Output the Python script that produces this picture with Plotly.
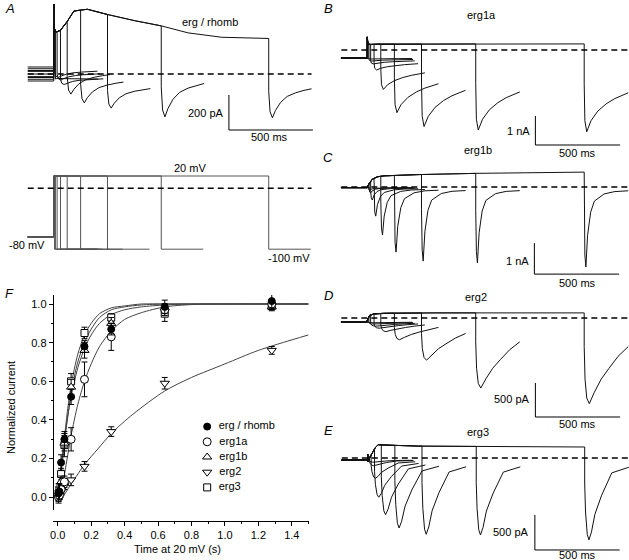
import numpy as np
import plotly.graph_objects as go

W, H = 629, 560
FONT = "Liberation Sans, Arial, sans-serif"

# ------------------------------------------------------------------ data
durations_ms = [5, 10, 20, 40, 80, 160, 320, 640, 1280]
pre_ms = -155

# Panel A : erg / rhomb current (pA)
envA_t = [0, 3, 15, 40, 80, 120, 200, 320, 480, 640, 800, 1000, 1280]
envA_I = [400, 260, 240, 250, 300, 360, 370, 340, 305, 275, 235, 210, 203]
holdA = [30, -30, 15, -15, 40, 0, -40, 20, -20]
tailminA = [-20, -25, -35, -60, -115, -165, -195, -245, -250]
tailA_dt = [0, 8, 22, 40, 70, 110, 160, 210, 255]
tailA_frac = [0.35, 0.85, 1.0, 0.82, 0.62, 0.47, 0.38, 0.32, 0.28]

# Panel A voltage protocol (mV)
V_hold, V_test, V_tail = -80, 20, -100
tail_step_ms = 250

# Panel B : erg1a (nA)
envB_t = [0, 2, 8, 20, 60, 200, 640, 1280]
envB_I = [0.45, 0.3, 0.2, 0.19, 0.2, 0.2, 0.21, 0.21]
holdB = -0.28
tailminB = [-0.31, -0.38, -0.48, -0.69, -1.36, -2.16, -2.64, -2.76, -2.82]
tailB_dt = [0, 4, 15, 40, 80, 130, 180, 260]
tailB_frac = [0.35, 0.85, 1.0, 0.85, 0.72, 0.62, 0.55, 0.47]

# Panel C : erg1b (nA)
envC_t = [0, 10, 30, 60, 100, 300, 640, 1280]
envC_I = [0.0, 0.1, 0.25, 0.33, 0.36, 0.40, 0.44, 0.48]
holdC = -0.02
tailminC = [-0.1, -0.19, -0.42, -0.94, -1.55, -2.10, -2.39, -2.45, -2.58]
tailC_dt = [0, 4, 10, 20, 38, 60, 117, 180, 260]
tailC_frac = [0.3, 0.85, 1.0, 0.6, 0.31, 0.17, 0.08, 0.05, 0.04]

# Panel D : erg2 (nA)
envD_t = [0, 5, 15, 40, 100, 400, 1280]
envD_I = [-0.03, 0.0, 0.04, 0.06, 0.07, 0.075, 0.075]
holdD = -0.06
tailminD = [-0.07, -0.09, -0.12, -0.15, -0.2, -0.32, -0.62, -1.03, -1.26]
tailD_dt = [0, 5, 15, 30, 60, 100, 145, 200, 260]
tailD_frac = [0.3, 0.7, 0.93, 1.0, 0.86, 0.7, 0.57, 0.42, 0.3]

# Panel E : erg3 (nA)
envE_t = [0, 3, 10, 25, 45, 62, 100, 300, 640, 1280]
envE_I = [0.05, -0.05, 0.0, 0.07, 0.15, 0.19, 0.185, 0.17, 0.165, 0.157]
holdE = -0.03
tailminE = [-0.06, -0.11, -0.29, -0.56, -0.81, -1.0, -1.09, -1.10, -1.17]
tailE_dt = [0, 5, 15, 25, 40, 60, 100, 160, 260]
tailE_frac = [0.3, 0.65, 0.93, 1.0, 0.9, 0.68, 0.44, 0.16, 0.09]

# Panel F : normalized current vs time at 20 mV (s)
series_names = ["erg / rhomb", "erg1a", "erg1b", "erg2", "erg3"]
f_time_s = [0.005, 0.01, 0.02, 0.04, 0.08, 0.16, 0.32, 0.64, 1.28]
f_rhomb = [0.02, 0.03, 0.18, 0.30, 0.52, 0.78, 0.87, 0.985, 1.015]
f_rhomb_err = [0.05, 0.04, 0.04, 0.04, 0.04, 0.03, 0.03, 0.035, 0.04]
f_erg1a = [0.0, 0.01, 0.04, 0.08, 0.30, 0.61, 0.83, 0.97, 1.0]
f_erg1a_err = [0.02, 0.02, 0.02, 0.03, 0.06, 0.09, 0.07, 0.03, 0.02]
f_erg1b = [0.01, 0.03, 0.08, 0.28, 0.57, 0.76, 0.90, 0.98, 0.985]
f_erg1b_err = [0.02, 0.02, 0.03, 0.04, 0.04, 0.04, 0.03, 0.02, 0.02]
f_erg2 = [0.0, 0.01, 0.03, 0.06, 0.09, 0.16, 0.34, 0.59, 0.76]
f_erg2_err = [0.02, 0.02, 0.02, 0.02, 0.03, 0.025, 0.025, 0.03, 0.02]
f_erg3 = [0.02, 0.04, 0.12, 0.27, 0.60, 0.85, 0.93, 0.95, 0.99]
f_erg3_err = [0.03, 0.03, 0.03, 0.06, 0.04, 0.03, 0.02, 0.04, 0.02]

fit_t = [0.0, 0.02, 0.04, 0.06, 0.08, 0.12, 0.16, 0.2, 0.25, 0.32, 0.4, 0.5, 0.64, 0.8, 1.0, 1.5]
fit_rhomb = [0.0, 0.15, 0.30, 0.42, 0.52, 0.67, 0.77, 0.84, 0.90, 0.945, 0.97, 0.985, 0.995, 1.0, 1.0, 1.0]
fit_erg1a = [0.0, 0.05, 0.12, 0.22, 0.32, 0.48, 0.60, 0.69, 0.78, 0.86, 0.92, 0.955, 0.985, 0.997, 1.0, 1.0]
fit_erg1b = [0.0, 0.12, 0.28, 0.42, 0.54, 0.70, 0.80, 0.87, 0.93, 0.97, 0.985, 0.995, 1.0, 1.0, 1.0, 1.0]
fit_erg3 = [0.0, 0.14, 0.31, 0.46, 0.58, 0.74, 0.84, 0.90, 0.95, 0.98, 0.99, 1.0, 1.0, 1.0, 1.0, 1.0]
fit2_t = [0.03, 0.07, 0.11, 0.16, 0.24, 0.32, 0.45, 0.64, 0.8, 1.0, 1.2, 1.5]
fit_erg2 = [0.0, 0.055, 0.107, 0.17, 0.25, 0.33, 0.43, 0.55, 0.62, 0.69, 0.76, 0.84]

# ------------------------------------------------------------------ helpers
def sweep(d, hold, env_t, env_I, tmin, tdt, tfrac):
    et = np.array(env_t, float)
    eI = np.array(env_I, float)
    t = [pre_ms, 0.0]
    I = [hold, hold]
    m = et < d
    t += list(et[m]); I += list(eI[m])
    t.append(d); I.append(float(np.interp(d, et, eI)))
    for dt, f in zip(tdt, tfrac):
        t.append(d + dt); I.append(hold + f * (tmin - hold))
    return t, I


def panel_traces(holds, env_t, env_I, tmins, tdt, tfrac):
    X, Y = [], []
    for i, d in enumerate(durations_ms):
        h = holds[i] if isinstance(holds, list) else holds
        t, I = sweep(d, h, env_t, env_I, tmins[i], tdt, tfrac)
        X += t + [None]; Y += I + [None]
    return X, Y


def px_axes(box, x0, sx, y0, sy):
    l, t, r, b = box
    xr = [(l - x0) / sx, (r - x0) / sx]
    yr = [(y0 - b) / sy, (y0 - t) / sy]
    return xr, yr, [l / W, r / W], [1 - b / H, 1 - t / H]


fig = go.Figure()
layout = dict(width=W, height=H, margin=dict(l=0, r=0, t=0, b=0),
              paper_bgcolor="white", plot_bgcolor="rgba(0,0,0,0)",
              showlegend=False, font=dict(family=FONT, size=11, color="black"))

# panel geometry (pixel box, t0 px, px/ms, zero px, px/unit)
geo = {
    "": ((20, 0, 315, 145), 51, 0.16875, 74, 0.175),
    "2": ((20, 160, 315, 265), 51, 0.16875, 188.2, 0.61),
    "3": ((335, 20, 629, 160), 366, 0.1703, 50, 29),
    "4": ((335, 160, 629, 290), 366, 0.1703, 187, 31),
    "5": ((335, 290, 629, 425), 366, 0.1703, 318, 68),
    "6": ((335, 425, 629, 560), 366.5, 0.1703, 458, 70),
}
for k, (box, x0, sx, y0, sy) in geo.items():
    xr, yr, xd, yd = px_axes(box, x0, sx, y0, sy)
    layout["xaxis" + k] = dict(range=xr, domain=xd, visible=False, fixedrange=True,
                               anchor="y" + k)
    layout["yaxis" + k] = dict(range=yr, domain=yd, visible=False, fixedrange=True,
                               anchor="x" + k)

line_k = dict(color="#111", width=1)

# Panel A current
X, Y = panel_traces(holdA, envA_t, envA_I, tailminA, tailA_dt, tailA_frac)
fig.add_trace(go.Scatter(x=X, y=Y, mode="lines", line=line_k, xaxis="x", yaxis="y"))

# Panel A voltage
VX, VY = [], []
for d in durations_ms:
    VX += [pre_ms, 0, 0, d, d, d + tail_step_ms, None]
    VY += [V_hold, V_hold, V_test, V_test, V_tail, V_tail, None]
fig.add_trace(go.Scatter(x=VX, y=VY, mode="lines", line=dict(color="#555", width=1),
                         xaxis="x2", yaxis="y2"))

for k, hold, et, eI, tm, tdt, tf in [
    ("3", holdB, envB_t, envB_I, tailminB, tailB_dt, tailB_frac),
    ("4", holdC, envC_t, envC_I, tailminC, tailC_dt, tailC_frac),
    ("5", holdD, envD_t, envD_I, tailminD, tailD_dt, tailD_frac),
    ("6", holdE, envE_t, envE_I, tailminE, tailE_dt, tailE_frac),
]:
    X, Y = panel_traces(hold, et, eI, tm, tdt, tf)
    fig.add_trace(go.Scatter(x=X, y=Y, mode="lines", line=line_k,
                             xaxis="x" + k, yaxis="y" + k))

shapes = []
dash = dict(color="black", width=1.5, dash="6px,4px")
# zero lines
shapes.append(dict(type="line", xref="x", yref="y", x0=-155, x1=1535, y0=0, y1=0, line=dash))
shapes.append(dict(type="line", xref="x2", yref="y2", x0=-155, x1=1535, y0=0, y1=0, line=dash))
for k in ["3", "4", "5", "6"]:
    shapes.append(dict(type="line", xref="x" + k, yref="y" + k, x0=-153, x1=1560,
                       y0=0, y1=0, line=dash))

# scale bars: (axis key, t start, y bottom, vertical size)
bar = dict(color="black", width=1)
scalebars = [("", 1043, -320, 200), ("3", 992, -3.276, 1.0), ("4", 986, -2.81, 1.0),
             ("5", 992, -1.456, 0.5), ("6", 986, -1.314, 0.5)]
for k, ts, yb, vs in scalebars:
    shapes.append(dict(type="line", xref="x" + k, yref="y" + k, x0=ts, x1=ts,
                       y0=yb, y1=yb + vs, line=bar))
    shapes.append(dict(type="line", xref="x" + k, yref="y" + k, x0=ts, x1=ts + 500,
                       y0=yb, y1=yb, line=bar))

# ------------------------------------------------------------------ panel F
fx0, fsx, fy0, fsy = 55, 168, 497.3, 193.3
layout["xaxis7"] = dict(domain=[50 / W, 307 / W], range=[(50 - fx0) / fsx, (307 - fx0) / fsx],
                        anchor="free", position=1 - 521 / H, showline=True,
                        linecolor="black", linewidth=1, ticks="outside", ticklen=4,
                        tickcolor="black", tick0=0, dtick=0.2, tickformat=".1f",
                        showgrid=False, zeroline=False, fixedrange=True,
                        tickfont=dict(size=11),
                        minor=dict(ticks="outside", ticklen=2, dtick=0.1, tickcolor="black"))
layout["yaxis7"] = dict(domain=[1 - 510 / H, 1 - 295 / H],
                        range=[(fy0 - 510) / fsy, (fy0 - 295) / fsy],
                        anchor="free", position=50 / W, showline=True,
                        linecolor="black", linewidth=1, ticks="outside", ticklen=4,
                        tickcolor="black", tick0=0, dtick=0.2, tickformat=".1f",
                        showgrid=False, zeroline=False, fixedrange=True,
                        tickfont=dict(size=11),
                        minor=dict(ticks="outside", ticklen=2, dtick=0.1, tickcolor="black"))

for ft, fv in [(fit2_t, fit_erg2), (fit_t, fit_erg1a), (fit_t, fit_rhomb),
               (fit_t, fit_erg1b), (fit_t, fit_erg3)]:
    fig.add_trace(go.Scatter(x=ft, y=fv, mode="lines", line=dict(color="#444", width=1,
                             shape="spline", smoothing=0.8), xaxis="x7", yaxis="y7"))

symbols = ["circle", "circle", "triangle-up", "triangle-down", "square"]
fills = ["black", "white", "white", "white", "white"]
sizes = [7, 8, 8, 8, 7]
vals = [f_rhomb, f_erg1a, f_erg1b, f_erg2, f_erg3]
errs = [f_rhomb_err, f_erg1a_err, f_erg1b_err, f_erg2_err, f_erg3_err]
for i in [3, 4, 2, 1, 0]:
    fig.add_trace(go.Scatter(
        x=f_time_s, y=vals[i], mode="markers", name=series_names[i],
        marker=dict(symbol=symbols[i], color=fills[i], size=sizes[i],
                    line=dict(color="black", width=1)),
        error_y=dict(type="data", array=errs[i], color="black", thickness=1, width=3),
        xaxis="x7", yaxis="y7"))

# manual legend
layout["xaxis8"] = dict(domain=[198 / W, 300 / W], range=[0, 1], visible=False,
                        fixedrange=True, anchor="y8")
layout["yaxis8"] = dict(domain=[1 - 495 / H, 1 - 419 / H], range=[4.5, -0.5],
                        visible=False, fixedrange=True, anchor="x8")
for i, nm in enumerate(series_names):
    fig.add_trace(go.Scatter(
        x=[0.07], y=[i], mode="markers+text", text=["  " + nm], textposition="middle right",
        textfont=dict(size=11),
        marker=dict(symbol=symbols[i], color=fills[i], size=sizes[i],
                    line=dict(color="black", width=1)),
        xaxis="x8", yaxis="y8"))

# ------------------------------------------------------------------ text
def ann(text, x, y, size=11, xanchor="center", yanchor="middle", angle=0):
    return dict(text=text, x=x / W, y=1 - y / H, xref="paper", yref="paper",
                showarrow=False, xanchor=xanchor, yanchor=yanchor,
                font=dict(size=size, family=FONT, color="black"), textangle=angle)

annotations = [
    ann("<i>A</i>", 7, 9, 13), ann("<i>B</i>", 327, 9, 13), ann("<i>C</i>", 327, 157, 13),
    ann("<i>D</i>", 327, 295, 13), ann("<i>E</i>", 327, 430, 13), ann("<i>F</i>", 7, 293, 13),
    ann("erg / rhomb", 208, 22), ann("erg1a", 481, 15), ann("erg1b", 477, 150),
    ann("erg2", 475, 297), ann("erg3", 477, 432),
    ann("200 pA", 224, 113, xanchor="right"), ann("500 ms", 268, 137),
    ann("20 mV", 188, 168), ann("-80 mV", 24, 245), ann("-100 mV", 287, 258),
    ann("1 nA", 532, 131, xanchor="right"), ann("500 ms", 577, 153),
    ann("1 nA", 531, 261, xanchor="right"), ann("500 ms", 577, 283),
    ann("500 pA", 532, 399, xanchor="right"), ann("500 ms", 577, 424),
    ann("500 pA", 531, 532, xanchor="right"), ann("500 ms", 577, 555),
    ann("Normalized current", 8, 407, angle=-90), ann("Time at 20 mV (s)", 175, 549),
]
layout["shapes"] = shapes
layout["annotations"] = annotations
fig.update_layout(**layout)
fig.write_html("out.html", config={"displayModeBar": False},
               post_script="document.body.style.margin='0';document.body.style.overflow='hidden';")
